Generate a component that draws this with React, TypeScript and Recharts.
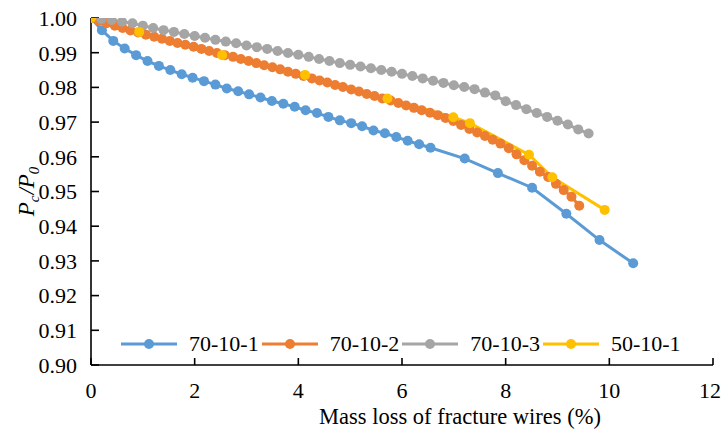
import React from "react";
import { LineChart, Line, XAxis, YAxis, Legend, Label } from "recharts";

// Mass loss of fracture wires (%) vs. Pc/P0, one [x, y] pair per measured point
const spec70101: [number, number][] = [
  [0, 1.0], [0.21, 0.9965], [0.43, 0.9934], [0.65, 0.9912], [0.87, 0.9893], [1.09, 0.9876],
  [1.31, 0.9862], [1.53, 0.985], [1.75, 0.9838], [1.96, 0.9828], [2.18, 0.9818], [2.4, 0.9808],
  [2.62, 0.9797], [2.84, 0.9789], [3.05, 0.978], [3.27, 0.9771], [3.49, 0.9761], [3.71, 0.9753],
  [3.93, 0.9744], [4.14, 0.9734], [4.36, 0.9726], [4.58, 0.9715], [4.8, 0.9705], [5.02, 0.9697],
  [5.23, 0.9688], [5.45, 0.9676], [5.67, 0.9668], [5.89, 0.9657], [6.11, 0.9646], [6.33, 0.9636],
  [6.55, 0.9626], [7.21, 0.9595], [7.85, 0.9553], [8.51, 0.9511], [9.17, 0.9436], [9.81, 0.936],
  [10.46, 0.9293],
];

const spec70102: [number, number][] = [
  [0, 1.0], [0.15, 0.9992], [0.3, 0.9985], [0.46, 0.9978], [0.61, 0.9971], [0.76, 0.9964],
  [0.91, 0.9958], [1.06, 0.9952], [1.22, 0.9946], [1.37, 0.994], [1.52, 0.9934], [1.67, 0.9928],
  [1.82, 0.9923], [1.98, 0.9917], [2.13, 0.9911], [2.28, 0.9905], [2.43, 0.9899], [2.58, 0.9893],
  [2.74, 0.9888], [2.89, 0.9882], [3.04, 0.9876], [3.19, 0.987], [3.34, 0.9864], [3.5, 0.9858],
  [3.65, 0.9852], [3.8, 0.9845], [3.95, 0.9839], [4.1, 0.9833], [4.26, 0.9826], [4.41, 0.982],
  [4.56, 0.9814], [4.71, 0.9807], [4.86, 0.9801], [5.02, 0.9794], [5.17, 0.9788], [5.32, 0.9781],
  [5.47, 0.9775], [5.62, 0.9768], [5.78, 0.9762], [5.93, 0.9755], [6.08, 0.9748], [6.23, 0.9741],
  [6.38, 0.9734], [6.54, 0.9727], [6.69, 0.972], [6.84, 0.9712], [6.99, 0.9703], [7.14, 0.9692],
  [7.3, 0.968], [7.45, 0.967], [7.6, 0.966], [7.75, 0.9649], [7.9, 0.9638], [8.06, 0.9625],
  [8.21, 0.9607], [8.36, 0.959], [8.51, 0.9574], [8.66, 0.9557], [8.82, 0.9542], [8.97, 0.9522],
  [9.12, 0.9504], [9.27, 0.9485], [9.42, 0.9459],
];

const spec70103: [number, number][] = [
  [0, 1.0], [0.2, 0.9997], [0.4, 0.9994], [0.6, 0.9989], [0.8, 0.9985], [1.0, 0.9978],
  [1.2, 0.9971], [1.4, 0.9965], [1.6, 0.996], [1.8, 0.9954], [2.0, 0.9948], [2.2, 0.9943],
  [2.4, 0.9937], [2.6, 0.9932], [2.8, 0.9927], [3.0, 0.9921], [3.2, 0.9916], [3.4, 0.9911],
  [3.6, 0.9905], [3.8, 0.9899], [4.0, 0.9894], [4.2, 0.9888], [4.4, 0.9882], [4.6, 0.9876],
  [4.8, 0.987], [5.0, 0.9865], [5.2, 0.986], [5.4, 0.9855], [5.6, 0.985], [5.8, 0.9845],
  [6.0, 0.9839], [6.2, 0.9833], [6.4, 0.9826], [6.6, 0.9819], [6.8, 0.9813], [7.0, 0.9806],
  [7.2, 0.9801], [7.4, 0.9795], [7.6, 0.9785], [7.8, 0.9777], [8.0, 0.976], [8.2, 0.9749],
  [8.4, 0.9737], [8.6, 0.9726], [8.8, 0.9715], [9.0, 0.9704], [9.2, 0.9693], [9.4, 0.9679],
  [9.6, 0.9667],
];

const spec50101: [number, number][] = [
  [0, 1.0], [0.93, 0.996], [2.53, 0.9893], [4.13, 0.9836], [5.72, 0.9768], [6.99, 0.9714],
  [7.31, 0.9697], [8.45, 0.9606], [8.9, 0.9541], [9.91, 0.9447],
];

const seriesNames = ["70-10-1", "70-10-2", "70-10-3", "50-10-1"];
const seriesColors = ["#5B9BD5", "#ED7D31", "#A5A5A5", "#FFC000"];
const seriesPoints = [spec70101, spec70102, spec70103, spec50101];

const xTicks = [0, 2, 4, 6, 8, 10, 12];
const yTicks = [0.9, 0.91, 0.92, 0.93, 0.94, 0.95, 0.96, 0.97, 0.98, 0.99, 1.0];

const FONT = "Liberation Serif";
const CHART_W = 722;

const toRows = (pts: [number, number][]) => pts.map(([x, y]) => ({ x, y }));

// X tick label kept inside the chart's right edge
const XTick = (props: any) => {
  const { x, y, payload } = props;
  const text = String(payload.value);
  const half = text.length * 5.5;
  const cx = Math.min(x, CHART_W - 1 - half);
  return (
    <text x={cx} y={y} dy="0.71em" textAnchor="middle" fontFamily={FONT} fontSize={22} fill="#000">
      {text}
    </text>
  );
};

const LegendRow = () => (
  <div style={{ display: "flex", alignItems: "center", whiteSpace: "nowrap", fontFamily: FONT, fontSize: 22, color: "#000", lineHeight: "24px" }}>
    {seriesNames.map((name, i) => (
      <div key={name} style={{ display: "flex", alignItems: "center", marginRight: 3 }}>
        <svg width={56} height={12} style={{ marginRight: 12 }}>
          <line x1={0} y1={6} x2={56} y2={6} stroke={seriesColors[i]} strokeWidth={3} />
          <circle cx={28} cy={6} r={5} fill={seriesColors[i]} />
        </svg>
        <span>{name}</span>
      </div>
    ))}
  </div>
);

const XTitle = (props: any) => {
  const vb = props.viewBox || {};
  return (
    <text
      x={vb.x + vb.width / 2 + 58}
      y={vb.y + 59}
      textAnchor="middle"
      fontFamily={FONT}
      fontSize={22.5}
      fill="#000"
    >
      Mass loss of fracture wires (%)
    </text>
  );
};

const YTitle = (props: any) => {
  const vb = props.viewBox || {};
  const cx = 34;
  const cy = vb.y + vb.height / 2;
  return (
    <text
      x={cx}
      y={cy}
      transform={`rotate(-90, ${cx}, ${cy})`}
      textAnchor="middle"
      fontFamily={FONT}
      fontSize={23}
      fontStyle="italic"
      fill="#000"
    >
      <tspan>P</tspan>
      <tspan fontSize={15} dy={5}>c</tspan>
      <tspan dx={1} dy={-5}>/P</tspan>
      <tspan fontSize={15} dy={5}>0</tspan>
    </text>
  );
};

export default function App() {
  return (
    <div style={{ position: "absolute", left: 0, top: 0, background: "#fff" }}>
      <LineChart width={CHART_W} height={433} margin={{ top: 18, right: 9, bottom: 38, left: 0 }}>
        <XAxis
          type="number"
          dataKey="x"
          domain={[0, 12]}
          ticks={xTicks}
          interval={0}
          allowDataOverflow
          height={30}
          tickSize={-7}
          tickMargin={24}
          axisLine={{ stroke: "#000", strokeWidth: 1.6 }}
          tickLine={{ stroke: "#000", strokeWidth: 1.6 }}
          tick={<XTick />}
        >
          <Label content={<XTitle />} />
        </XAxis>
        <YAxis
          type="number"
          domain={[0.9, 1.0]}
          ticks={yTicks}
          interval={0}
          allowDataOverflow
          width={91}
          tickSize={-8}
          tickMargin={22}
          tickFormatter={(v: number) => v.toFixed(2)}
          axisLine={{ stroke: "#000", strokeWidth: 1.6 }}
          tickLine={{ stroke: "#000", strokeWidth: 1.6 }}
          tick={{ fontFamily: FONT, fontSize: 22, fill: "#000" }}
        >
          <Label content={<YTitle />} />
        </YAxis>
        <Legend
          layout="horizontal"
          verticalAlign="middle"
          align="center"
          content={<LegendRow />}
          wrapperStyle={{ left: 121, top: 332, width: "auto", height: "auto" }}
        />
        {seriesPoints.map((pts, i) => (
          <Line
            key={seriesNames[i]}
            data={toRows(pts)}
            dataKey="y"
            name={seriesNames[i]}
            type="linear"
            stroke={seriesColors[i]}
            strokeWidth={3}
            dot={{ r: 5, fill: seriesColors[i], stroke: seriesColors[i], strokeWidth: 0 }}
            activeDot={false}
            isAnimationActive={false}
          />
        ))}
      </LineChart>
    </div>
  );
}
